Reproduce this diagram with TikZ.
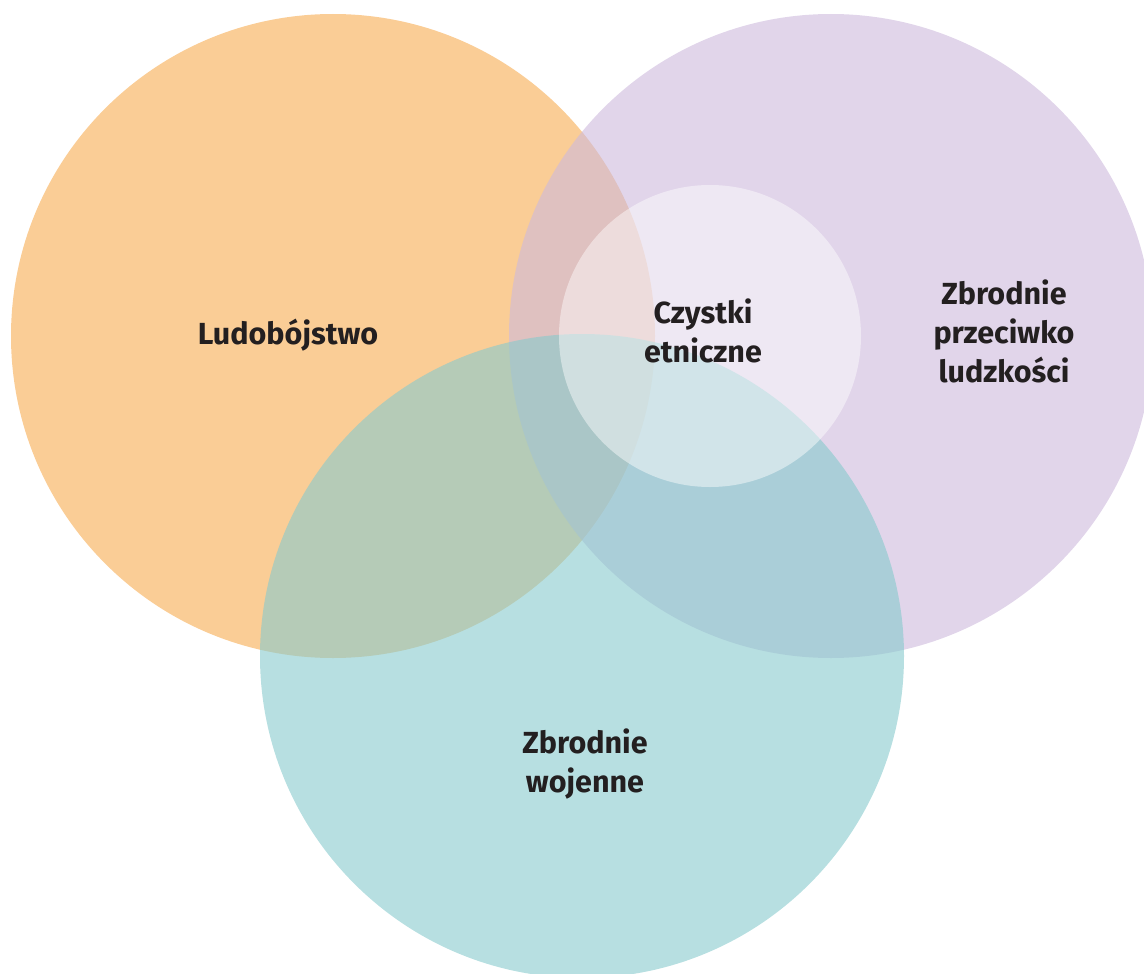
\documentclass[tikz,border=0pt]{standalone}
\usepackage{fontspec}
\setmainfont{Fira Sans}
\definecolor{orangeC}{RGB}{250,205,150}
\definecolor{purpleC}{RGB}{205,185,220}
\definecolor{tealC}{RGB}{135,202,205}
\definecolor{textC}{RGB}{35,31,32}
\begin{document}
\begin{tikzpicture}[x=1pt,y=-1pt,
  setcircle/.style={circle, inner sep=0pt, draw=none},
  label/.style={font=\fontsize{30.5}{39}\selectfont\bfseries, text=textC, align=center, anchor=base, inner sep=0pt}]
\useasboundingbox (0,0) rectangle (1144,974);
\node[setcircle, minimum size=644pt, fill=orangeC] (geno) at (333,336) {};
\node[setcircle, minimum size=644pt, fill=purpleC, fill opacity=0.6] (hum) at (831,336) {};
\node[setcircle, minimum size=644pt, fill=tealC, fill opacity=0.6] (war) at (582,656) {};
\node[setcircle, minimum size=302pt, fill=white, fill opacity=0.45] (eth) at (710,336) {};
\node[label] (ludo) at (288,344) {Ludobójstwo};
\node[label] (czyst) at (703,362) {Czystki\\etniczne};
\node[label] (przeciw) at (1004,382) {Zbrodnie\\przeciwko\\ludzkości};
\node[label] (wojen) at (585,792) {Zbrodnie\\wojenne};
\end{tikzpicture}
\end{document}
